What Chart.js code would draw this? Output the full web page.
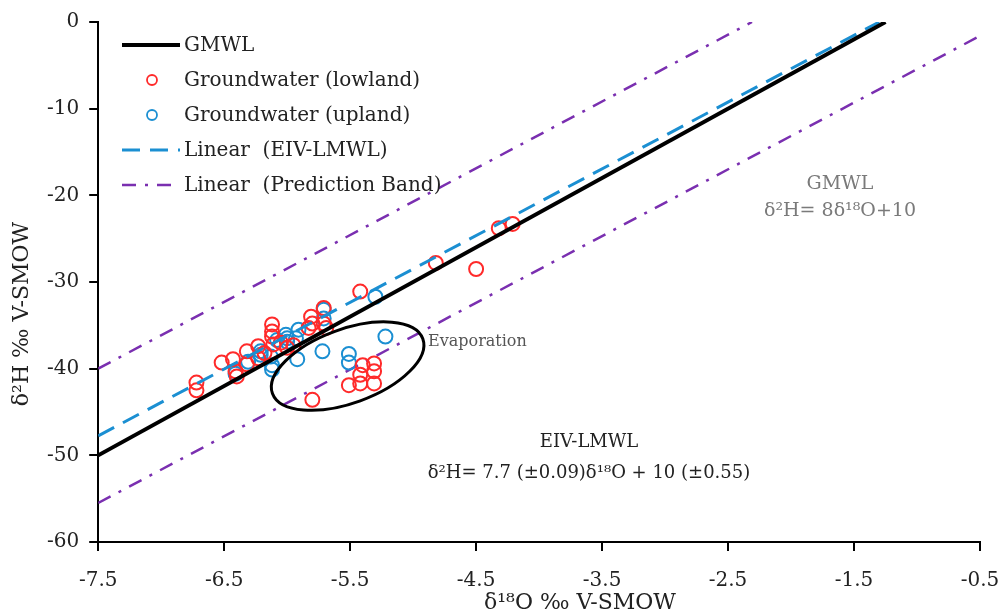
<!DOCTYPE html>
<html>
<head>
<meta charset="utf-8">
<script src="https://cdn.jsdelivr.net/npm/chart.js@4.4.1/dist/chart.umd.min.js"></script>
<style>
  body { margin: 0; background: #fff; }
</style>
</head>
<body>
<canvas id="chart" width="998" height="616"></canvas>
<script>
// ---- data ----
const xTickStart = -7.5, xTickEnd = -0.5, xStep = 1;
const yTickStart = -60, yTickEnd = 0, yStep = 10;

const lowlandX = [-6.72, -6.72, -6.52, -6.43, -6.40, -6.41, -6.32, -6.32, -6.23, -6.23, -6.18,
    -6.12, -6.12, -6.12, -6.11, -6.05, -6.00, -5.95, -5.83, -5.81, -5.80, -5.71, -5.71, -5.69,
    -5.42, -4.82, -4.50, -4.32, -4.21,
    -5.80, -5.51, -5.42, -5.31, -5.42, -5.40, -5.31, -5.31];
const lowlandY = [-41.6, -42.5, -39.3, -38.9, -40.9, -40.3, -38.0, -39.5, -37.4, -38.8, -38.2,
    -34.9, -35.7, -36.3, -37.2, -37.0, -37.6, -37.3, -35.3, -34.0, -34.8, -33.0, -34.8, -35.3,
    -31.1, -27.8, -28.5, -23.8, -23.3,
    -43.6, -41.9, -41.7, -41.7, -40.7, -39.6, -39.4, -40.3];

const uplandX = [-6.41, -6.31, -6.21, -6.21, -6.13, -6.12, -6.12, -6.08, -6.01, -6.00, -6.00,
    -5.93, -5.91, -5.92, -5.72, -5.71, -5.71, -5.51, -5.51, -5.30, -5.22];
const uplandY = [-40.6, -39.2, -38.0, -38.4, -38.6, -39.6, -40.1, -36.7, -36.1, -36.9, -36.5,
    -36.5, -35.5, -38.9, -38.0, -33.2, -34.2, -38.3, -39.3, -31.7, -36.3];

const gmwlX = [-7.5, -1.25];
const gmwlY = [-50, 0];
const lmwlX = [-7.5, -1.3];
const lmwlY = [-47.75, 0];
const bandUpX = [-7.5, -2.31];
const bandUpY = [-40, 0];
const bandLowX = [-7.5, -0.5];
const bandLowY = [-55.5, -1.6];

const seriesNames = ["GMWL", "Groundwater (lowland)", "Groundwater (upland)",
    "Linear  (EIV-LMWL)", "Linear  (Prediction Band)"];
const xTitle = "δ¹⁸O ‰ V-SMOW";
const yTitle = "δ²H ‰ V-SMOW";

const pts = (xs, ys) => xs.map((x, i) => ({ x: x, y: ys[i] }));

const SERIF = "'DejaVu Serif', 'Liberation Serif', serif";
const RED = "#ff2a2a";
const BLUE = "#1b8fd2";
const PURPLE = "#7a2fb0";

/* axis titles, legend, text notes and the evaporation ellipse */
const notesPlugin = {
    id: "notes",
    afterDraw(chart) {
        const ctx = chart.ctx;
        const xs = chart.scales.x, ys = chart.scales.y;
        ctx.save();

        // axis titles (placed off-centre like the original)
        ctx.fillStyle = "#222";
        ctx.font = "22px " + SERIF;
        ctx.textAlign = "center";
        ctx.textBaseline = "middle";
        ctx.fillText(xTitle, 580, 603);
        ctx.save();
        ctx.translate(22, 314);
        ctx.rotate(-Math.PI / 2);
        ctx.fillText(yTitle, 0, 0);
        ctx.restore();

        // ellipse around evaporated samples
        const cx = xs.getPixelForValue(-5.52), cy = ys.getPixelForValue(-39.7);
        ctx.beginPath();
        ctx.ellipse(cx, cy, 80, 37, -20 * Math.PI / 180, 0, 2 * Math.PI);
        ctx.lineWidth = 3;
        ctx.strokeStyle = "#000";
        ctx.stroke();

        ctx.fillStyle = "#555";
        ctx.font = "16px " + SERIF;
        ctx.textAlign = "left";
        ctx.fillText("Evaporation", 428, 342);

        // equations
        ctx.textAlign = "center";
        ctx.font = "19px " + SERIF;
        ctx.fillStyle = "#7a7a7a";
        ctx.fillText("GMWL", 840, 184);
        ctx.fillText("δ²H= 8δ¹⁸O+10", 840, 211);
        ctx.fillStyle = "#222";
        ctx.font = "18px " + SERIF;
        ctx.fillText("EIV-LMWL", 589, 442);
        ctx.fillText("δ²H= 7.7 (±0.09)δ¹⁸O + 10 (±0.55)", 589, 473);

        // legend
        const ds = chart.data.datasets;
        [0, 1, 2, 3, 4].forEach((di, row) => {
            const d = ds[di];
            const y = 45 + row * 35;
            ctx.beginPath();
            if (d.showLine) {
                ctx.setLineDash(d.borderDash || []);
                ctx.lineWidth = d.borderWidth;
                ctx.strokeStyle = d.borderColor;
                ctx.moveTo(122, y);
                ctx.lineTo(180, y);
                ctx.stroke();
                ctx.setLineDash([]);
            } else {
                ctx.lineWidth = 1.8;
                ctx.strokeStyle = d.borderColor;
                ctx.arc(152, y, 5, 0, 2 * Math.PI);
                ctx.stroke();
            }
            ctx.fillStyle = "#222";
            ctx.textAlign = "left";
            ctx.font = "20px " + SERIF;
            ctx.fillText(d.label, 184, y + 1);
        });
        ctx.restore();
    }
};

const lineSet = (label, data, color, width, dash, order) => ({
    label: label,
    data: data,
    showLine: true,
    borderColor: color,
    borderWidth: width,
    borderDash: dash,
    pointRadius: 0,
    pointHoverRadius: 0,
    fill: false,
    order: order
});

const pointSet = (label, data, color) => ({
    label: label,
    data: data,
    showLine: false,
    borderColor: color,
    backgroundColor: "rgba(0,0,0,0)",
    borderWidth: 2,
    pointRadius: 7,
    pointHoverRadius: 7,
    order: 1
});

new Chart(document.getElementById("chart"), {
    type: "scatter",
    data: {
        datasets: [
            lineSet(seriesNames[0], pts(gmwlX, gmwlY), "#000", 4, [], 0),
            pointSet(seriesNames[1], pts(lowlandX, lowlandY), RED),
            pointSet(seriesNames[2], pts(uplandX, uplandY), BLUE),
            lineSet(seriesNames[3], pts(lmwlX, lmwlY), BLUE, 3, [18, 10], 0),
            lineSet(seriesNames[4], pts(bandUpX, bandUpY), PURPLE, 2.5, [14, 9, 3, 9], 2),
            lineSet("band-low", pts(bandLowX, bandLowY), PURPLE, 2.5, [14, 9, 3, 9], 2)
        ]
    },
    options: {
        responsive: false,
        animation: false,
        layout: { padding: { top: 8, right: 18, left: 37, bottom: 5 } },
        plugins: {
            legend: { display: false },
            tooltip: { enabled: false }
        },
        scales: {
            x: {
                type: "linear",
                min: xTickStart,
                max: xTickEnd,
                // let the last label hang over the edge instead of shrinking the plot
                afterFit(scale) {
                    scale.paddingRight = 0;
                },
                ticks: {
                    stepSize: xStep,
                    color: "#222",
                    font: { family: SERIF, size: 20 },
                    padding: 18,
                    maxRotation: 0
                },
                grid: { drawOnChartArea: false, drawTicks: true, tickLength: 9, color: "#000", lineWidth: 2 },
                border: { display: true, color: "#000", width: 2 }
            },
            y: {
                type: "linear",
                min: yTickStart,
                max: yTickEnd,
                ticks: {
                    stepSize: yStep,
                    color: "#222",
                    font: { family: SERIF, size: 20 },
                    padding: 10
                },
                grid: { drawOnChartArea: false, drawTicks: true, tickLength: 9, color: "#000", lineWidth: 2 },
                border: { display: true, color: "#000", width: 2 }
            }
        }
    },
    plugins: [notesPlugin]
});
</script>
</body>
</html>
